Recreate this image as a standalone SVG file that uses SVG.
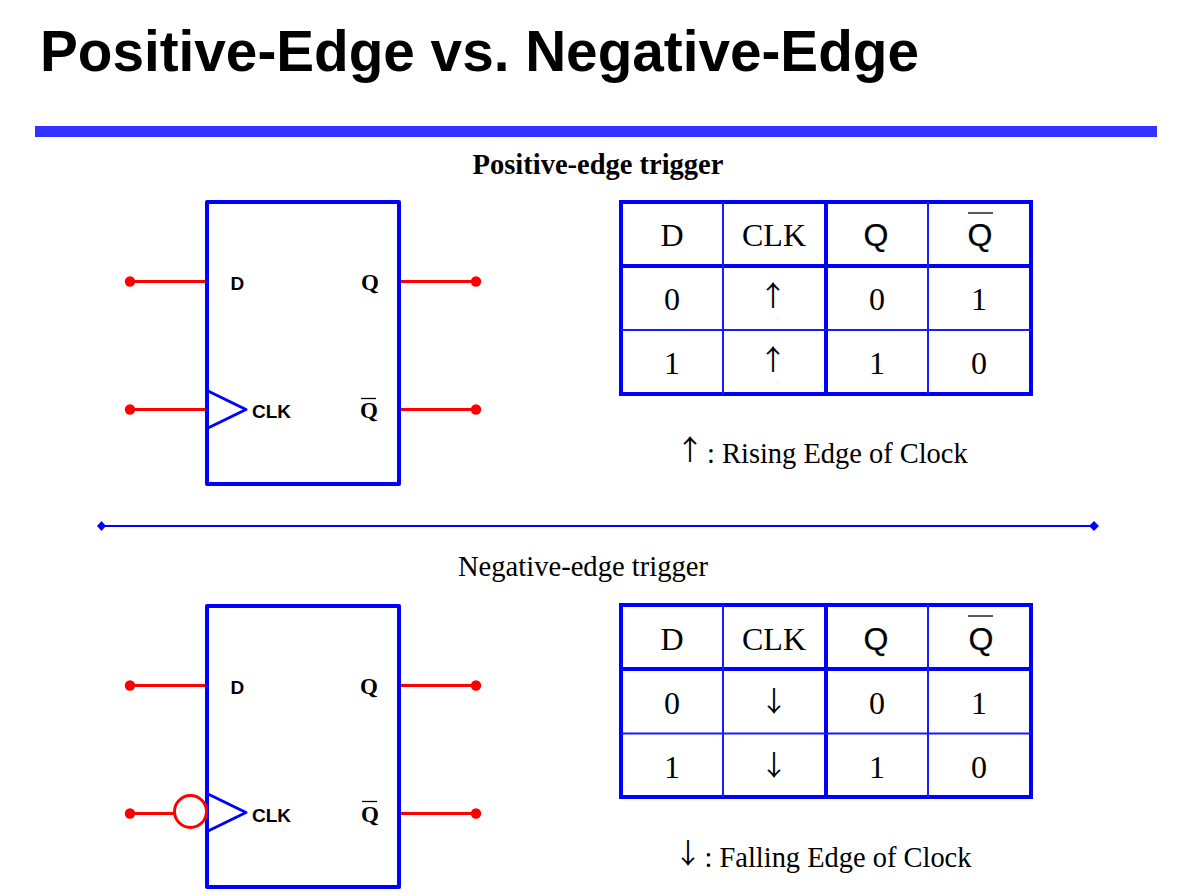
<svg xmlns="http://www.w3.org/2000/svg" width="1177" height="896" viewBox="0 0 1177 896">
<style>
.box{fill:none;stroke:#0000ff;stroke-width:4;stroke-linejoin:round}
.tri{fill:none;stroke:#0000ff;stroke-width:3;stroke-linejoin:round}
.wire{fill:none;stroke:#ff0000;stroke-width:3}
.dot{fill:#ff0000}
.thick{stroke:#0000ff;stroke-width:4;fill:none}
.thin{stroke:#1a1aff;stroke-width:2;fill:none}
.over{stroke:#000;stroke-width:1.3;fill:none}
.serif{font-family:"Liberation Serif","Times New Roman",serif;fill:#000}
.sans{font-family:"Liberation Sans",Arial,sans-serif;fill:#000}
.arrow{font-family:"Noto Sans CJK SC","Noto Sans",sans-serif;fill:#000;font-size:28px;text-anchor:middle}
.cell{font-size:32px;text-anchor:middle}
.cellq{font-size:32px;text-anchor:middle;stroke:#000;stroke-width:.25}
.pin{font-size:19px;font-weight:bold}
.qb{font-size:23px;font-weight:bold;text-anchor:middle}
.cap{font-size:28.450px}
</style>
<defs>
<g id="ffwires">
<circle class="dot" cx="130" cy="281.500" r="5.200"/>
<circle class="dot" cx="476" cy="281.500" r="5.200"/>
<circle class="dot" cx="130" cy="409.500" r="5.200"/>
<circle class="dot" cx="476" cy="409.500" r="5.200"/>
<path class="wire" d="M130 281.500H206M400 281.500H476M400 409.500H476"/>
</g>
</defs>
<text id="title" class="sans" x="40" y="71" font-size="56.700" font-weight="bold">Positive-Edge vs. Negative-Edge</text>
<rect id="title-bar" x="35" y="126" width="1122" height="11" fill="#3333ff"/>
<text id="pos-heading" class="serif" x="598" y="174" font-size="28.500" font-weight="bold" text-anchor="middle">Positive-edge trigger</text>

<g id="connectors">
<use href="#ffwires"/>
<path class="wire" d="M130 409.500H206"/>
<use href="#ffwires" y="404"/>
<path class="wire" d="M130 813.500H175"/>
<path id="divider" d="M101 526H1094" stroke="#0000ff" stroke-width="2" fill="none"/>
<path d="M101.500 521L106 526L101.500 531L97 526Z" fill="#0000ff"/>
<path d="M1094 521L1099 526L1094 531L1089 526Z" fill="#0000ff"/>
</g>

<g id="ff-positive">
<rect class="box" x="207" y="202" width="192" height="282"/>
<path class="tri" d="M208 391L246 409.500L208 428"/>
<text class="sans pin" x="230.500" y="290">D</text>
<text class="sans pin" x="252" y="418">CLK</text>
<text class="serif qb" x="370" y="290">Q</text>
<text class="serif qb" x="369" y="418">Q</text>
<path class="over" d="M361 398.500H376"/>
</g>

<g id="table-positive">
<rect class="thick" x="621" y="202" width="410" height="192"/>
<path class="thick" d="M621 266H1031M826 202V394"/>
<path class="thin" d="M621 330H1031M723 202V394M928 202V394"/>
<text class="serif cell" x="672" y="246">D</text>
<text class="serif cell" x="774" y="246">CLK</text>
<text class="sans cellq" x="876" y="246">Q</text>
<text class="sans cellq" x="980" y="246">Q</text>
<path class="over" d="M968 213H993"/>
<text class="serif cell" x="672" y="310">0</text>
<text class="arrow" x="773" y="306">↑</text>
<text class="serif cell" x="877" y="310">0</text>
<text class="serif cell" x="979" y="310">1</text>
<text class="serif cell" x="672" y="374">1</text>
<text class="arrow" x="773" y="370">↑</text>
<text class="serif cell" x="877" y="374">1</text>
<text class="serif cell" x="979" y="374">0</text>
</g>
<g id="rising-caption">
<text class="arrow" x="690" y="460">↑</text>
<text class="serif cap" x="707" y="463">: Rising Edge of Clock</text>
</g>

<text id="neg-heading" class="serif" x="583" y="576" font-size="28.600" text-anchor="middle">Negative-edge trigger</text>

<g id="ff-negative">
<rect class="box" x="207" y="606" width="192" height="281"/>
<path class="tri" d="M208 794L246 812.500L208 831"/>
<circle cx="190.500" cy="811.500" r="16" fill="none" stroke="#ff0000" stroke-width="3"/>
<text class="sans pin" x="230.500" y="694">D</text>
<text class="sans pin" x="252" y="822">CLK</text>
<text class="serif qb" x="369" y="694">Q</text>
<text class="serif qb" x="370" y="822">Q</text>
<path class="over" d="M362 801.500H377"/>
</g>

<g id="table-negative">
<rect class="thick" x="621" y="605" width="410" height="192"/>
<path class="thick" d="M621 669H1031M826 605V797"/>
<path class="thin" d="M621 733.500H1031M723 605V797M928 605V797"/>
<text class="serif cell" x="672" y="650">D</text>
<text class="serif cell" x="774" y="650">CLK</text>
<text class="sans cellq" x="876" y="650">Q</text>
<text class="sans cellq" x="981" y="650">Q</text>
<path class="over" d="M968 616H993"/>
<text class="serif cell" x="672" y="714">0</text>
<text class="arrow" x="774" y="712">↓</text>
<text class="serif cell" x="877" y="714">0</text>
<text class="serif cell" x="979" y="714">1</text>
<text class="serif cell" x="672" y="778">1</text>
<text class="arrow" x="774" y="776">↓</text>
<text class="serif cell" x="877" y="778">1</text>
<text class="serif cell" x="979" y="778">0</text>
</g>
<g id="falling-caption">
<text class="arrow" x="688" y="864">↓</text>
<text class="serif cap" x="704.500" y="867">: Falling Edge of Clock</text>
</g>
</svg>
